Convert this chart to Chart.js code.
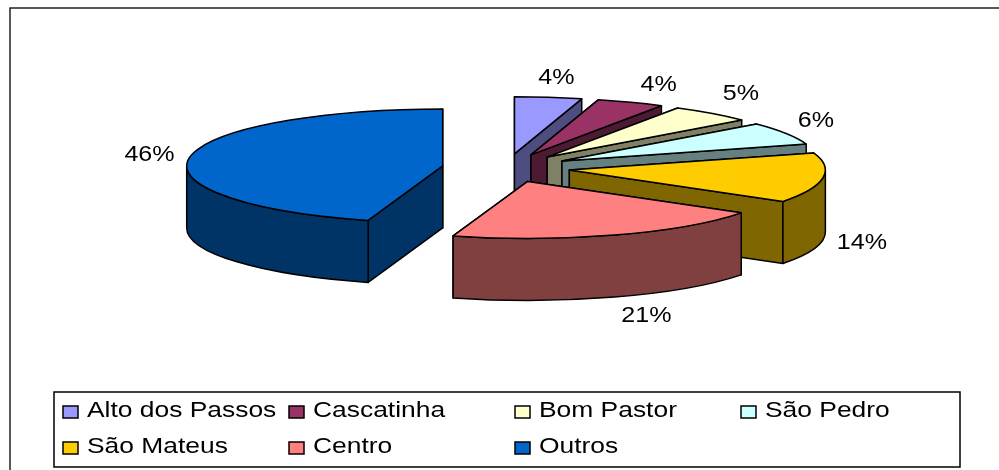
<!DOCTYPE html>
<html><head><meta charset="utf-8">
<style>html,body{margin:0;padding:0;background:#fff}canvas{display:block}</style>
<script src="https://cdn.jsdelivr.net/npm/chart.js@4"></script>
</head><body>
<canvas id="c" width="999" height="470"></canvas>
<script>
const categories = ['Alto dos Passos','Cascatinha','Bom Pastor','São Pedro','São Mateus','Centro','Outros'];
// Estimated shares; each rounds to the printed percentage
const shares = [4.25,4.3,5.25,6.45,14.2,20.5,45.5];
const topColors = ['#9999ff','#993366','#ffffcc','#ccffff','#ffcc00','#ff8080','#0066cc'];
const sideColors = ['#4d4d80','#4d1a33','#808066','#668080','#806600','#804040','#003366'];
// Label displacement from the slice's rim point (px)
const labelNudgeX = [8,28,29,30,39,32,-40];
const labelNudgeY = [-21,-19,-21,-14,1,17,-5];

const TILT = 0.2227, DEPTH = 62, EXPLODE_OPTION = 256, RADIUS = 256;
const LEGEND_STRETCH = 1.2, PERCENT_STRETCH = 1.14, FONT = '22px "Liberation Sans", Arial, sans-serif';

function stretchedText(ctx, text, x, y, align, stretch) {
  ctx.save();
  ctx.translate(x, y);
  ctx.scale(stretch, 1);
  ctx.font = FONT;
  ctx.fillStyle = '#000';
  ctx.textAlign = align;
  ctx.textBaseline = 'alphabetic';
  ctx.fillText(text, 0, 0);
  ctx.restore();
}

const pie3d = {
  id: 'pie3d',
  beforeDraw(chart) {
    const ctx = chart.ctx;
    ctx.save();
    ctx.strokeStyle = '#222';
    ctx.lineWidth = 1.5;
    ctx.strokeRect(10, 8, 1100, 600);
    ctx.restore();
  },
  beforeDatasetDraw(chart, args) {
    const ctx = chart.ctx;
    const arcs = args.meta.data;
    ctx.save();
    ctx.lineJoin = 'round';
    ctx.lineWidth = 1.5;
    ctx.strokeStyle = '#000';

    arcs.forEach((el, i) => {
      const p = el.getProps(['x','y','startAngle','endAngle','outerRadius'], true);
      const mid = (p.startAngle + p.endAngle) / 2;
      const off = el.options.offset / 4;
      const ox = p.x + Math.cos(mid) * off;
      const oy = p.y + Math.sin(mid) * off * TILT;
      const r = p.outerRadius;
      const px = a => Math.cos(a) * r;
      const py = a => Math.sin(a) * r * TILT;

      const shape = (build, fill) => {
        ctx.beginPath();
        build();
        ctx.closePath();
        ctx.fillStyle = fill;
        ctx.fill();
        ctx.stroke();
      };
      const arcAt = (shift, a0, a1, ccw) => {
        ctx.save();
        ctx.translate(ox, oy + shift);
        ctx.scale(1, TILT);
        ctx.arc(0, 0, r, a0, a1, ccw);
        ctx.restore();
      };
      const cutFace = a => shape(() => {
        ctx.moveTo(ox, oy);
        ctx.lineTo(ox + px(a), oy + py(a));
        ctx.lineTo(ox + px(a), oy + py(a) + DEPTH);
        ctx.lineTo(ox, oy + DEPTH);
      }, sideColors[i]);

      // Hidden cut face first, camera-facing one after it
      const startFront = Math.sin(p.startAngle + Math.PI / 2) < 0;
      if (startFront) { cutFace(p.endAngle); cutFace(p.startAngle); }
      else { cutFace(p.startAngle); cutFace(p.endAngle); }

      // Outer wall: only the part of the rim on the near side
      const w0 = Math.max(p.startAngle, 0), w1 = Math.min(p.endAngle, Math.PI);
      if (w1 > w0) shape(() => {
        arcAt(0, w0, w1, false);
        arcAt(DEPTH, w1, w0, true);
      }, sideColors[i]);

      // Top surface
      shape(() => {
        ctx.moveTo(ox, oy);
        arcAt(0, p.startAngle, p.endAngle, false);
      }, el.options.backgroundColor);
    });
    ctx.restore();

    // Percentage labels anchored on each slice's rim
    arcs.forEach((el, i) => {
      const p = el.getProps(['x','y','startAngle','endAngle','outerRadius'], true);
      const mid = (p.startAngle + p.endAngle) / 2;
      const off = el.options.offset / 4;
      const rimX = p.x + Math.cos(mid) * (off + p.outerRadius);
      const rimY = p.y + Math.sin(mid) * (off + p.outerRadius) * TILT + (Math.sin(mid) > 0 ? DEPTH : 0);
      stretchedText(ctx, Math.round(shares[i]) + '%', rimX + labelNudgeX[i], rimY + labelNudgeY[i] + 8, 'center', PERCENT_STRETCH);
    });
    return false;
  },
  afterDraw(chart) {
    const ctx = chart.ctx;
    ctx.save();
    ctx.fillStyle = '#fff';
    ctx.strokeStyle = '#000';
    ctx.lineWidth = 1.5;
    ctx.fillRect(54, 392, 906, 75);
    ctx.strokeRect(54, 392, 906, 75);
    chart.data.labels.forEach((label, i) => {
      const col = i % 4, row = Math.floor(i / 4);
      const x = 63 + col * 226, y = 406 + row * 36;
      ctx.fillStyle = topColors[i];
      ctx.fillRect(x, y, 15, 12);
      ctx.strokeRect(x, y, 15, 12);
      stretchedText(ctx, label, x + 24, y + 11, 'left', LEGEND_STRETCH);
    });
    ctx.restore();
  }
};

new Chart(document.getElementById('c'), {
  type: 'pie',
  data: {
    labels: categories,
    datasets: [{ data: shares, backgroundColor: topColors, borderColor: '#000', borderWidth: 1.5, offset: EXPLODE_OPTION }]
  },
  options: {
    responsive: false,
    animation: false,
    radius: RADIUS,
    layout: { padding: { left: 13, right: 0, top: 0, bottom: 134 } },
    plugins: { legend: { display: false }, tooltip: { enabled: false } }
  },
  plugins: [pie3d]
});
</script>
</body></html>
